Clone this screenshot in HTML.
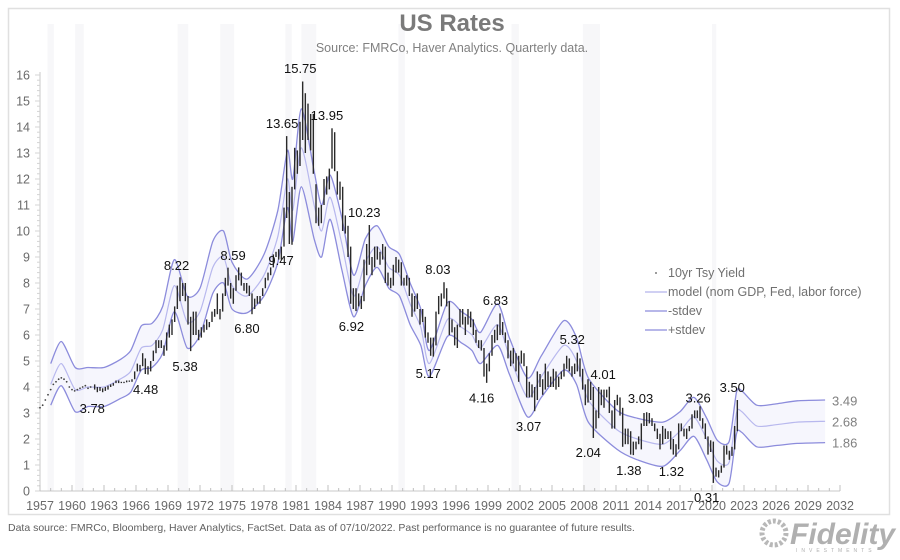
<!DOCTYPE html>
<html><head><meta charset="utf-8">
<style>
html,body{margin:0;padding:0;background:#fff;}
body{width:900px;height:555px;overflow:hidden;font-family:"Liberation Sans",Arial,sans-serif;}
svg text{font-family:"Liberation Sans",Arial,sans-serif;}
</style></head>
<body>
<svg id="chart" width="900" height="555" xmlns="http://www.w3.org/2000/svg">
<rect x="8.5" y="8.5" width="881" height="506" fill="#fff" stroke="#e0e0e0" stroke-width="1.5"/>
<g id="bands"></g>
<g id="axes"></g>
<g id="model"></g>
<g id="bars"></g>
<g id="ann"></g>
<text x="452" y="31" text-anchor="middle" font-size="24" font-weight="bold" fill="#7a7a7a">US Rates</text>
<text x="452" y="52" text-anchor="middle" font-size="12.5" fill="#808080">Source: FMRCo, Haver Analytics. Quarterly data.</text>
<g font-size="12.5" fill="#707070">
  <g><circle cx="656" cy="273" r="0.9" fill="#555"/><text x="668" y="277">10yr Tsy Yield</text></g>
  <g><line x1="645" y1="292" x2="667" y2="292" stroke="#b4b4ec" stroke-width="1.2"/><text x="668" y="296">model (nom GDP, Fed, labor force)</text></g>
  <g><line x1="645" y1="311" x2="667" y2="311" stroke="#8c8cdc" stroke-width="1.2"/><text x="668" y="315">-stdev</text></g>
  <g><line x1="645" y1="330" x2="667" y2="330" stroke="#8c8cdc" stroke-width="1.2"/><text x="668" y="334">+stdev</text></g>
</g>
<text x="8" y="531" font-size="10.5" fill="#606060">Data source: FMRCo, Bloomberg, Haver Analytics, FactSet. Data as of 07/10/2022. Past performance is no guarantee of future results.</text>
<g>
  <circle cx="774" cy="533" r="12" fill="none" stroke="#b8b8b8" stroke-width="5" stroke-dasharray="3 2"/>
  <text x="790" y="544" font-size="30" font-weight="bold" font-style="italic" fill="#b0b0b0">Fidelity</text>
  <text x="796" y="552" font-size="5" letter-spacing="4" fill="#b0b0b0">INVESTMENTS</text>
</g>
</svg>
<script>
// ---- data ----
const yieldStartYear = 1962;
const yieldHigh = [
4.1,4.0,4.0,3.95, 4.0,4.05,4.1,4.15, 4.25,4.25,4.2,4.2, 4.25,4.25,4.3,4.6,
4.9,4.85,5.3,5.1, 4.8,5.0,5.4,5.8, 5.8,5.8,5.6,6.1, 6.4,6.6,7.1,7.9,
8.22,8.0,8.0,7.5, 6.7,6.9,6.9,6.2, 6.3,6.4,6.6,6.5, 6.9,7.0,7.6,7.0,
7.6,8.2,8.59,8.0, 7.8,8.3,8.6,8.4, 8.0,8.0,7.9,7.6, 7.4,7.5,7.5,7.8,
8.2,8.4,8.6,9.1, 9.2,9.3,9.4,10.9, 13.65,11.5,11.7,13.2, 13.1,14.2,15.75,15.3,
14.9,14.5,14.5,11.8, 10.9,11.0,12.0,12.1, 12.4,13.95,13.8,12.3, 11.9,11.7,10.6,10.2,
9.4,7.8,7.8,7.6, 7.5,8.9,9.5,10.23, 9.0,9.4,9.4,9.2, 9.5,9.4,8.4,8.2,
8.7,9.0,8.9,8.8, 8.2,8.3,8.2,7.6, 7.5,7.6,7.0,7.0, 6.7,6.1,5.9,5.9,
6.9,7.5,7.6,8.03, 7.8,7.3,6.6,6.3, 6.4,7.0,7.0,6.7, 7.0,6.9,6.6,6.2,
5.8,5.8,5.5,4.9, 5.3,6.0,6.2,6.4, 6.83,6.5,6.1,5.8, 5.4,5.5,5.3,5.2,
5.4,5.3,4.8,4.2, 4.1,4.0,4.6,4.5, 4.3,4.9,4.6,4.4, 4.7,4.6,4.4,4.6,
4.9,5.2,5.1,4.8, 4.9,5.32,5.1,4.7, 4.1,4.3,4.2,4.0, 3.1,4.0,3.9,3.9,
3.9,4.01,3.1,3.5, 3.7,3.6,3.2,2.4, 2.4,2.3,1.9,1.9, 2.1,2.6,3.0,3.03,
3.0,2.8,2.6,2.4, 2.2,2.5,2.4,2.3, 2.3,2.0,1.8,2.6, 2.6,2.4,2.4,2.5,
2.95,3.1,3.1,3.26, 2.8,2.6,2.1,1.95, 1.9,0.9,0.8,0.98, 1.75,1.75,1.55,1.7,
2.5,3.50];
const yieldLow = [
3.9,3.8,3.85,3.8, 3.85,3.9,4.0,4.05, 4.15,4.15,4.15,4.15, 4.18,4.2,4.2,4.3,
4.6,4.6,4.8,4.5, 4.48,4.6,5.0,5.3, 5.5,5.5,5.2,5.4, 5.9,6.0,6.5,7.0,
7.3,7.5,7.3,6.4, 5.38,6.0,6.0,5.8, 5.9,6.1,6.2,6.3, 6.5,6.7,6.8,6.6,
6.9,7.5,7.9,7.4, 7.2,7.7,8.1,7.9, 7.7,7.6,7.5,6.80, 7.0,7.2,7.2,7.5,
7.8,8.1,8.3,8.6, 9.0,8.9,8.9,9.4, 10.5,9.5,9.47,11.6, 12.2,12.5,13.5,13.0,
13.5,13.1,12.2,10.3, 10.2,10.3,11.0,11.4, 11.6,12.4,12.3,11.4, 11.2,10.0,9.9,9.0,
7.2,7.0,6.92,7.1, 7.0,7.3,8.3,8.7, 8.3,8.6,8.9,8.7, 8.9,8.0,7.9,7.8,
7.9,8.4,8.4,7.9, 7.9,7.9,7.5,6.7, 6.9,7.0,6.4,6.5, 5.9,5.7,5.2,5.17,
5.6,6.8,7.1,7.4, 7.1,6.0,6.1,5.6, 5.5,6.3,6.4,6.0, 6.4,6.3,6.0,5.7,
5.5,5.4,4.4,4.16, 4.6,5.2,5.7,5.8, 6.0,6.0,5.7,5.1, 4.8,4.9,4.6,4.2,
4.9,4.8,3.6,3.6, 3.6,3.07,3.5,4.0, 3.7,3.9,4.0,4.0, 4.0,3.9,4.0,4.3,
4.4,4.7,4.6,4.4, 4.5,4.6,4.4,3.9, 3.3,3.4,3.5,2.04, 2.4,2.8,3.3,3.2,
3.6,3.0,2.4,2.4, 3.3,2.9,1.7,1.8, 1.8,1.4,1.38,1.6, 1.8,1.6,2.5,2.5,
2.6,2.5,2.3,2.0, 1.6,1.8,2.0,2.0, 1.6,1.4,1.32,1.6, 2.3,2.1,2.0,2.3,
2.4,2.8,2.8,2.7, 2.4,2.0,1.4,1.5, 0.31,0.55,0.52,0.7, 0.9,1.4,1.2,1.35,
1.6,2.3];
// early yield shown as dotted series (quarterly, 1957-1961)
const earlyStartYear = 1957;
const earlyYield = [3.2,3.3,3.5,3.7,3.9,4.1,4.2,4.3,4.35,4.3,4.2,4.0,3.9,3.85,3.9,3.95,4.0,4.05,3.95,4.0];
// model and stdev
const modelYears = [1958,1959,1960.3,1961.5,1963,1964.5,1965.5,1966.5,1967.5,1968.5,1969.6,1970.8,1972,1973.2,1974.2,1975,1976.4,1978,1979.3,1980.2,1980.7,1981.5,1982.7,1983.4,1984.2,1985.3,1986.4,1987.5,1988.6,1989.7,1990.7,1991.7,1992.7,1993.5,1995.2,1996.5,1997.5,1998.3,1999.9,2001,2002.7,2004,2006.1,2007.3,2008.4,2011.1,2013,2015.4,2017,2018.3,2019.5,2020.5,2021.6,2022.3,2022.8,2024.2,2026,2028,2030.6];
const modelVals  = [4.1,4.9,3.9,4.0,4.0,4.3,4.6,5.5,5.6,6.2,7.9,6.5,6.9,8.6,9.0,7.9,7.5,8.3,9.8,12.0,10.8,13.2,11.0,10.0,11.3,9.5,7.5,8.8,9.4,8.6,8.3,7.2,6.3,4.9,6.6,6.3,6.0,5.5,6.4,5.2,3.6,4.4,5.6,5.0,3.5,2.35,2.0,1.8,2.3,2.85,2.0,1.15,1.1,3.0,3.05,2.5,2.55,2.65,2.68];
const stdevVals  = [0.8,0.85,0.85,0.75,0.75,0.75,0.8,0.85,0.85,0.9,1.0,1.0,0.9,1.0,1.0,0.9,0.65,0.8,1.0,1.1,1.2,1.5,1.3,1.0,0.85,1.0,0.8,0.9,0.8,0.8,0.8,0.8,0.7,0.5,0.65,0.6,0.6,0.6,0.8,0.7,0.75,0.8,0.95,0.9,0.85,0.75,0.8,0.85,0.75,0.75,0.8,0.8,0.8,0.8,0.8,0.8,0.8,0.82,0.82];
// annotations: label text, label-centre year, label-centre value
const annText = ["15.75","13.65","13.95","10.23","9.47","8.59","8.22","6.80","5.38","4.48","3.78","6.92","8.03","5.17","6.83","4.16","3.07","5.32","4.01","2.04","3.03","1.38","1.32","3.26","3.50","0.31"];
const annYear = [1981.4,1979.7,1983.9,1987.4,1979.6,1975.1,1969.8,1976.4,1970.6,1966.9,1961.9,1986.2,1994.3,1993.4,1999.7,1998.4,2002.8,2006.9,2009.8,2008.4,2013.3,2012.2,2016.2,2018.7,2021.9,2019.5];
const annVal  = [16.27,14.15,14.46,10.73,8.88,9.08,8.7,6.27,4.8,3.92,3.19,6.35,8.54,4.54,7.35,3.6,2.5,5.85,4.5,1.5,3.57,0.81,0.77,3.6,4.0,-0.23];
const endText = ["3.49","2.68","1.86"];
const endVals = [3.49,2.68,1.86];
const recessionStart = [1957.7,1960.3,1969.9,1973.9,1980.0,1981.5,1990.6,2001.2,2007.9,2020.0];
const recessionEnd   = [1958.3,1961.1,1970.9,1975.2,1980.6,1982.9,1991.2,2001.9,2009.5,2020.4];
const yTicks = [0,1,2,3,4,5,6,7,8,9,10,11,12,13,14,15,16];
const xTickLabels = [1957,1960,1963,1966,1969,1972,1975,1978,1981,1984,1987,1990,1993,1996,1999,2002,2005,2008,2011,2014,2017,2020,2023,2026,2029,2032];

// ---- scales ----
const X0=40, X1=840, Y0=491, Y1=75;
function xs(yr){return X0+(yr-1957)*(X1-X0)/75;}
function ys(v){return Y0-v*(Y0-Y1)/16;}
const NS="http://www.w3.org/2000/svg";
function mk(tag,attrs,parent){const e=document.createElementNS(NS,tag);for(const k in attrs)e.setAttribute(k,attrs[k]);parent.appendChild(e);return e;}

// recession bands
const gB=document.getElementById('bands');
for(let i=0;i<recessionStart.length;i++){
  const r=mk('rect',{x:xs(recessionStart[i]),y:24,width:xs(recessionEnd[i])-xs(recessionStart[i]),height:Y0-24,fill:'#f7f7f9'},gB);
  
  
}

// axes
const gA=document.getElementById('axes');
const ya=mk('line',{x1:X0,y1:Y1-3,x2:X0,y2:Y0,stroke:'#c8c8c8'},gA);


const xa=mk('line',{x1:X0,y1:Y0,x2:X1,y2:Y0,stroke:'#c8c8c8'},gA);


for(let v=0;v<=16.001;v+=0.2){const major=Math.abs(v-Math.round(v))<0.01;mk('line',{x1:X0-(major?5:3),y1:ys(v),x2:X0,y2:ys(v),stroke:'#d4d4d4'},gA);}
yTicks.forEach(t=>{
  const tx=mk('text',{x:30,y:ys(t)+4.5,'text-anchor':'end','font-size':12.5,fill:'#6a6a6a'},gA);
  tx.textContent=t;
  
  
});
for(let yr=1957;yr<=2032;yr++){const major=(yr-1957)%3===0;mk('line',{x1:xs(yr),y1:Y0,x2:xs(yr),y2:Y0-(major?6:3),stroke:'#c0c0c0'},gA);}
xTickLabels.forEach(t=>{
  const tx=mk('text',{x:xs(t),y:510,'text-anchor':'middle','font-size':12.5,fill:'#6a6a6a'},gA);
  tx.textContent=t;
  
  
});

// smooth path (reduced tension to avoid overshoot)
function smooth(pts){
  let d='M'+pts[0][0].toFixed(1)+','+pts[0][1].toFixed(1);
  const k=8;
  for(let i=0;i<pts.length-1;i++){
    const p0=pts[Math.max(0,i-1)],p1=pts[i],p2=pts[i+1],p3=pts[Math.min(pts.length-1,i+2)];
    const c1=[p1[0]+(p2[0]-p0[0])/k,p1[1]+(p2[1]-p0[1])/k];
    const c2=[p2[0]-(p3[0]-p1[0])/k,p2[1]-(p3[1]-p1[1])/k];
    d+='C'+c1[0].toFixed(1)+','+c1[1].toFixed(1)+' '+c2[0].toFixed(1)+','+c2[1].toFixed(1)+' '+p2[0].toFixed(1)+','+p2[1].toFixed(1);
  }
  return d;
}
const gM=document.getElementById('model');
const upPts=modelYears.map((y,i)=>[xs(y),ys(modelVals[i]+stdevVals[i])]);
const loPts=modelYears.map((y,i)=>[xs(y),ys(modelVals[i]-stdevVals[i])]);
const midPts=modelYears.map((y,i)=>[xs(y),ys(modelVals[i])]);
const loRev=loPts.slice().reverse();
const loRevD=smooth(loRev);
const fillD=smooth(upPts)+'L'+loRev[0][0].toFixed(1)+','+loRev[0][1].toFixed(1)+loRevD.slice(loRevD.indexOf('C'))+'Z';
const fp=mk('path',{d:fillD,fill:'#ececfa','fill-opacity':0.45,stroke:'none'},gM);


const up=mk('path',{d:smooth(upPts),fill:'none',stroke:'#8c8cdc','stroke-width':1.3},gM);


const md=mk('path',{d:smooth(midPts),fill:'none',stroke:'#b8b8ee','stroke-width':1.2},gM);


const lo=mk('path',{d:smooth(loPts),fill:'none',stroke:'#8c8cdc','stroke-width':1.3},gM);



// bars
const gY=document.getElementById('bars');
yieldHigh.forEach((h,i)=>{
  const yr=yieldStartYear+i*0.25+0.125;
  const b=mk('line',{x1:xs(yr),x2:xs(yr),y1:ys(h),y2:ys(yieldLow[i]),stroke:'#2a2a2a','stroke-width':1.4},gY);
  
  
});
earlyYield.forEach((v,i)=>{
  const c=mk('circle',{cx:xs(earlyStartYear+i*0.25),cy:ys(v),r:0.9,fill:'#444'},gY);
  
  
});

// annotations
const gN=document.getElementById('ann');
annText.forEach((t,i)=>{
  const tx=mk('text',{x:xs(annYear[i]),y:ys(annVal[i])+5,'text-anchor':'middle','font-size':13,fill:'#111'},gN);
  tx.textContent=t;
  
  
});
endText.forEach((t,i)=>{
  const tx=mk('text',{x:832,y:ys(endVals[i])+5,'font-size':13,fill:'#808080'},gN);
  tx.textContent=t;
  
  
});
</script>
</body></html>
